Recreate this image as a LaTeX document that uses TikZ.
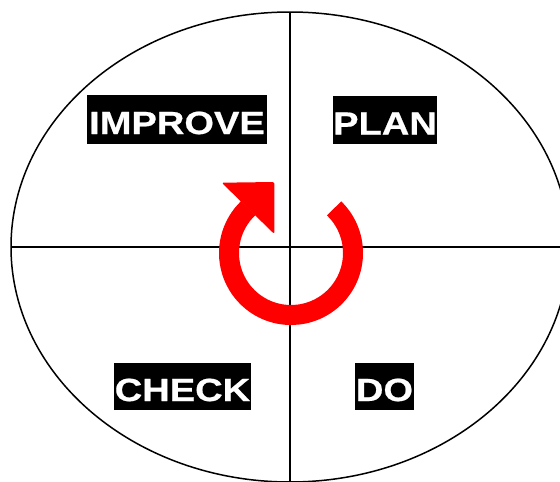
\documentclass[tikz,border=0pt]{standalone}
\usepackage{fontspec}
\usetikzlibrary{shapes.geometric}
\newfontfamily\lab{Liberation Sans}[FakeStretch=1.19,BoldFeatures={FakeBold=0.6}]
\begin{document}
\begin{tikzpicture}[x=1pt,y=-1pt,
  lbl/.style={fill=black,text=white,font=\lab\bfseries\fontsize{32}{32}\selectfont,
    inner sep=0pt,text height=29pt,text depth=0pt},
  divider/.style={line width=1.5pt,black},
  cycle arrow/.style={red,line width=20pt}]
\useasboundingbox (0,0) rectangle (560,482);
% outer ellipse
\node[draw,line width=1.5pt,ellipse,inner sep=0pt,minimum width=558pt,minimum height=470pt] (ell) at (290,247) {};
\coordinate (top) at (290,12);
\coordinate (bottom) at (290,482);
\coordinate (left) at (11,247);
\coordinate (right) at (560,247);
\draw[divider] (top) -- (bottom);
\draw[divider] (left) -- (right);
% labels
\node[lbl,minimum width=180pt,minimum height=49pt] (improve) at (177,119.5) {IMPROVE};
\node[lbl,minimum width=104pt,minimum height=48pt] (plan) at (385,120) {PLAN};
\node[lbl,minimum width=137pt,minimum height=47pt] (check) at (182.5,386.5) {CHECK};
\node[lbl,minimum width=59pt,minimum height=47pt] (do) at (384.5,386.5) {DO};
% circular arrow
\coordinate (cen) at (291,253);
\draw[cycle arrow] (cen) ++(-46:62) arc[start angle=-46,end angle=226.5,radius=62];
\coordinate (h1) at (221.7,182.7);
\coordinate (h2) at (274.3,182);
\coordinate (h3) at (274.3,234);
\fill[red,rounded corners=1.5pt] (h1) -- (h2) -- (h3) -- cycle;
\end{tikzpicture}
\end{document}
